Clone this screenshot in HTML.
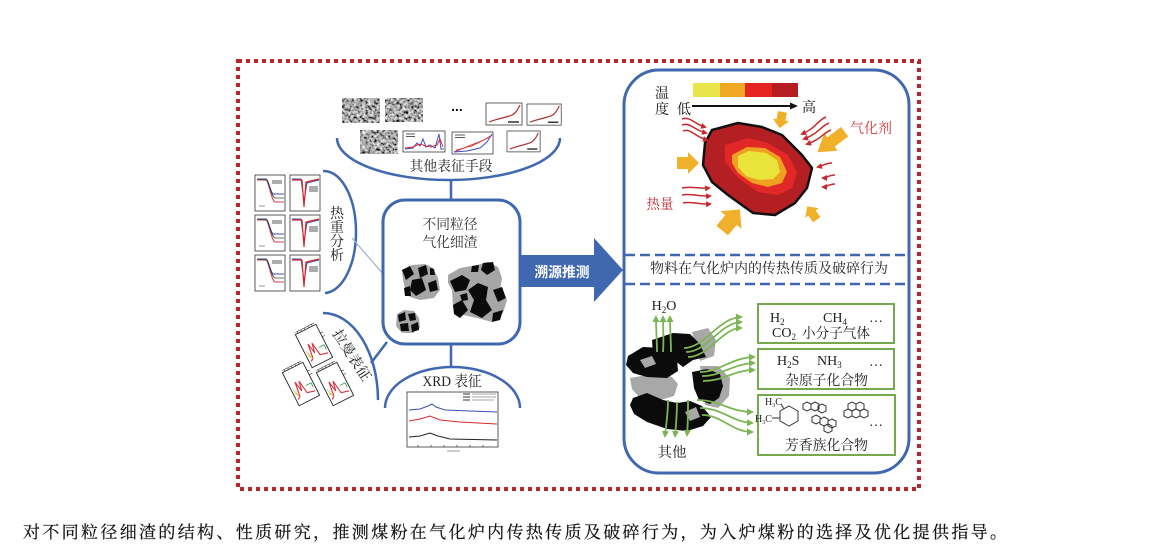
<!DOCTYPE html>
<html><head><meta charset="utf-8">
<style>
html,body{margin:0;padding:0;background:#fff;width:1155px;height:556px;overflow:hidden;}
svg{display:block;}
.s{font-family:"Liberation Serif","Noto Serif CJK SC",serif;}
.b{font-family:"Liberation Sans","Noto Sans CJK SC",sans-serif;}
</style></head><body>
<svg width="1155" height="556" viewBox="0 0 1155 556" xmlns="http://www.w3.org/2000/svg">
<defs>
<filter id="noise" x="0" y="0" width="1" height="1">
<feTurbulence type="fractalNoise" baseFrequency="0.35" numOctaves="3" seed="7"/>
<feColorMatrix type="matrix" values="1.7 0 0 0 -0.45  1.7 0 0 0 -0.45  1.7 0 0 0 -0.45  0 0 0 0 1"/>
</filter>
<marker id="ga" markerWidth="8" markerHeight="8" refX="5" refY="4" orient="auto" markerUnits="userSpaceOnUse"><path d="M0,0.5 L7,4 L0,7.5 Z" fill="#7cb553"/></marker>
<marker id="ra" markerWidth="7" markerHeight="7" refX="4" refY="3.5" orient="auto" markerUnits="userSpaceOnUse"><path d="M0,0.5 L6,3.5 L0,6.5 Z" fill="#c8282e"/></marker>
<marker id="ka" markerWidth="8" markerHeight="8" refX="6" refY="4" orient="auto" markerUnits="userSpaceOnUse"><path d="M0,0.5 L8,4 L0,7.5 Z" fill="#111"/></marker>
<path id="barr" d="M-11,-6 L0,-6 L0,-11 L11,0 L0,11 L0,6 L-11,6 Z" fill="#f0b02a"/>
<g id="tg">
<rect x="0" y="0" width="30" height="36" fill="#fff" stroke="#333" stroke-width="0.8"/>
<path d="M2,4 L11,4 C14,5 15,16 18,19 L29,19" fill="none" stroke="#3a4fb0" stroke-width="1"/>
<path d="M2,5 L11,5 C14,7 16,25 20,27 L29,27" fill="none" stroke="#d8404a" stroke-width="1"/>
<path d="M2,4 L12,5 C14,8 16,21 20,23 L29,23" fill="none" stroke="#444" stroke-width="0.8"/>
<path d="M17,6 L27,6 M17,8 L27,8" stroke="#222" stroke-width="0.8"/>
<path d="M4,31 L10,31" stroke="#555" stroke-width="0.6"/>
</g>
<g id="dtg">
<rect x="0" y="0" width="30" height="36" fill="#fff" stroke="#333" stroke-width="0.8"/>
<path d="M2,4 L11,4 L14,26 L17,8 L29,5" fill="none" stroke="#3a4fb0" stroke-width="1"/>
<path d="M2,5 L12,5 L14,32 L16,7 L29,4" fill="none" stroke="#d82a2a" stroke-width="1.2"/>
<path d="M19,12 L28,12 M19,14 L28,14 M19,16 L28,16" stroke="#222" stroke-width="0.7"/>
</g>
<g id="rise">
<rect x="0" y="0" width="36" height="22" fill="#fff" stroke="#222" stroke-width="0.7"/>
<path d="M3,19 C10,16 18,15 26,12 C30,10 32,6 34,2" fill="none" stroke="#d22" stroke-width="1.2"/>
<path d="M3,19 C10,16.5 18,15.5 26,12.5 C30,10.5 32,7 33,3" fill="none" stroke="#555" stroke-width="0.5"/>
<path d="M22,19 L33,19" stroke="#222" stroke-width="1.4"/>
</g>
<g id="ram">
<rect x="0" y="0" width="23" height="37" fill="#fff" stroke="#222" stroke-width="0.9"/>
<path d="M1,-2 L22,-2 M3,-2 L3,0 M7,-2 L7,0 M11,-2 L11,0 M15,-2 L15,0 M19,-2 L19,0" stroke="#333" stroke-width="0.6"/>
<path d="M2,31 L5,29 L7,14 L9,25 L11,15 L13,29 L21,31" fill="none" stroke="#d83040" stroke-width="1.1"/>
<path d="M2,20 L4,27 M2,24 L5,30" stroke="#d8c040" stroke-width="0.8"/>
<path d="M15,22 L21,22 L21,27" fill="none" stroke="#40a060" stroke-width="0.9"/>
<path d="M23,10 L26,10 M23,14 L26,14" stroke="#222" stroke-width="0.6"/>
</g>
</defs>

<!-- red dotted border -->
<rect x="238" y="61" width="681" height="428" fill="none" stroke="#b5252a" stroke-width="4" stroke-dasharray="4 4"/>

<!-- ===== LEFT PART ===== -->
<rect x="342" y="98" width="38" height="25" filter="url(#noise)"/>
<rect x="385" y="98" width="38" height="24" filter="url(#noise)"/>
<rect x="360" y="130" width="38" height="24" filter="url(#noise)"/>
<text x="457" y="111" text-anchor="middle" font-size="14" font-weight="bold" class="b" fill="#111">...</text>
<use href="#rise" transform="translate(486,103)"/>
<use href="#rise" transform="translate(527,104) scale(0.95,0.96)"/>
<use href="#rise" transform="translate(507,131) scale(0.92,0.95)"/>
<g transform="translate(403,131)">
<rect x="0" y="0" width="42" height="21" fill="#fff" stroke="#222" stroke-width="0.7"/>
<path d="M2,18 L10,17 L14,12 L17,15 L20,8 L23,16 L27,14 L32,17 L36,3 L38,18 L41,18" fill="none" stroke="#3a4fd0" stroke-width="1"/>
<path d="M2,17 L10,16 L14,14 L18,13 L22,15 L28,16 L34,14 L37,8 L40,16" fill="none" stroke="#d82a2a" stroke-width="1"/>
<path d="M3,3 L12,3 M3,5.5 L12,5.5" stroke="#222" stroke-width="0.8"/>
</g>
<g transform="translate(452,132)">
<rect x="0" y="0" width="41" height="22" fill="#fff" stroke="#222" stroke-width="0.7"/>
<path d="M2,20 L12,16 L22,12 L32,8 L40,3" fill="none" stroke="#d82a2a" stroke-width="1"/>
<path d="M2,20 L15,19 L28,16 L35,10 L40,2" fill="none" stroke="#3a4fd0" stroke-width="1"/>
<path d="M4,18 L20,14 L38,5" fill="none" stroke="#e05050" stroke-width="0.8"/>
<path d="M3,3 L13,3 M3,5.5 L13,5.5" stroke="#222" stroke-width="0.8"/>
</g>
<path d="M337,138 A111.5,42 0 0 0 560,138" fill="none" stroke="#4068b0" stroke-width="2.5"/>
<line x1="451" y1="180" x2="451" y2="201" stroke="#4068b0" stroke-width="2.5"/>
<text x="451" y="171" text-anchor="middle" font-size="14" class="s" fill="#222" textLength="83" lengthAdjust="spacingAndGlyphs">其他表征手段</text>

<!-- thermal charts -->
<use href="#tg" transform="translate(255,175)"/>
<use href="#dtg" transform="translate(290,175)"/>
<use href="#tg" transform="translate(255,215)"/>
<use href="#dtg" transform="translate(290,215)"/>
<use href="#tg" transform="translate(255,255)"/>
<use href="#dtg" transform="translate(290,255)"/>
<path d="M323,171 A32,61 0 0 1 325,293" fill="none" stroke="#4068b0" stroke-width="2.5"/>
<line x1="352" y1="238" x2="384" y2="275" stroke="#9fb0c8" stroke-width="1.2"/>
<g class="s" font-size="14" fill="#222" text-anchor="middle">
<text x="337" y="218">热</text>
<text x="337" y="232">重</text>
<text x="337" y="246">分</text>
<text x="337" y="260">析</text>
</g>

<!-- raman -->
<use href="#ram" transform="translate(314,346) rotate(-27) translate(-11.5,-18.5)"/>
<use href="#ram" transform="translate(301,384) rotate(-27) translate(-11.5,-18.5)"/>
<use href="#ram" transform="translate(335,384) rotate(-27) translate(-11.5,-18.5)"/>
<path d="M323,313 A55,87 0 0 1 378,400" fill="none" stroke="#4068b0" stroke-width="2.5"/>
<line x1="371" y1="363" x2="387" y2="342" stroke="#4068b0" stroke-width="2.5"/>
<text x="0" y="5" transform="translate(352,355) rotate(57)" text-anchor="middle" font-size="14" class="s" fill="#222" textLength="58" lengthAdjust="spacingAndGlyphs">拉曼表征</text>

<!-- XRD -->
<line x1="451" y1="344" x2="451" y2="367" stroke="#4068b0" stroke-width="2.5"/>
<path d="M385,408 A67.5,41 0 0 1 520,408" fill="none" stroke="#4068b0" stroke-width="2.5"/>
<text x="452" y="386" text-anchor="middle" font-size="15" class="s" fill="#222" textLength="59" lengthAdjust="spacingAndGlyphs">XRD 表征</text>
<g>
<rect x="407" y="392" width="91" height="55" fill="#fff" stroke="#333" stroke-width="0.8"/>
<path d="M409,410 L420,409 L428,406 L432,404 L436,407 L445,410 L470,411 L497,412" fill="none" stroke="#3a4fb0" stroke-width="1"/>
<path d="M409,421 L420,419 L430,416 L440,420 L460,422 L497,424" fill="none" stroke="#d82a2a" stroke-width="1"/>
<path d="M409,437 L420,436 L430,433 L438,436 L450,439 L497,440" fill="none" stroke="#222" stroke-width="1"/>
<path d="M463,394 L470,394 M463,397 L470,397 M463,400 L470,400" stroke-width="1" stroke="#333"/>
<path d="M472,394 L496,394 M472,397 L496,397 M472,400 L494,400" stroke-width="0.7" stroke="#888"/>
<path d="M418,447 L418,445 M431,447 L431,445 M444,447 L444,445 M457,447 L457,445 M470,447 L470,445 M483,447 L483,445" stroke="#333" stroke-width="0.7"/>
<path d="M447,451 L460,451" stroke="#999" stroke-width="1"/>
</g>

<!-- center box -->
<rect x="383" y="200" width="137" height="144" rx="22" fill="#fff" stroke="#4068b0" stroke-width="3"/>
<text x="450" y="229" text-anchor="middle" font-size="14" class="s" fill="#333" textLength="55" lengthAdjust="spacingAndGlyphs">不同粒径</text>
<text x="450" y="247" text-anchor="middle" font-size="14" class="s" fill="#333" textLength="55" lengthAdjust="spacingAndGlyphs">气化细渣</text>
<polygon fill="#a6a6a6" points="448,275 460,268 477,265 488,262 498,267 502,278 500,290 507,300 503,313 492,322 477,318 463,315 453,307 452,290 448,283"/>
<g fill="#0b0b0b">
<polygon points="450,281 462,275 470,280 466,290 455,292"/>
<polygon points="483,263 493,262 495,270 487,275 481,270"/>
<polygon points="468,290 478,283 488,287 486,300 492,310 482,318 470,312 474,300"/>
<polygon points="493,290 502,287 506,298 498,302"/>
<polygon points="453,305 462,300 468,310 460,318 454,314"/>
<polygon points="460,295 467,293 468,300 462,301"/>
<polygon points="493,313 503,310 500,320 492,322"/>
<polygon points="472,266 479,265 478,272 471,272"/>
</g>
<polygon fill="#a6a6a6" points="402,270 412,265 425,264 433,268 438,278 440,290 434,298 420,300 410,297 405,288 403,280"/>
<g fill="#0b0b0b">
<polygon points="402,270 410,266 414,274 406,280"/>
<polygon points="418,268 426,265 428,274 420,278"/>
<polygon points="412,280 422,278 426,290 416,296 410,290"/>
<polygon points="428,283 436,280 438,290 430,292"/>
<polygon points="404,288 410,286 411,296 405,296"/>
<polygon points="430,268 434,269 435,275 430,275"/>
</g>
<polygon fill="#a6a6a6" points="397,314 404,310 414,311 419,318 420,328 413,333 402,333 396,326"/>
<g fill="#0b0b0b">
<polygon points="398,315 405,312 406,320 399,322"/>
<polygon points="408,314 415,313 416,320 410,321"/>
<polygon points="400,324 408,323 409,331 401,331"/>
<polygon points="411,325 418,322 419,330 412,332"/>
</g>

<!-- big arrow -->
<polygon points="520,255 594,255 594,238 623,270 594,302 594,287 520,287" fill="#4068b0"/>
<text x="562" y="277" text-anchor="middle" font-size="14" font-weight="bold" class="b" fill="#fff" textLength="55" lengthAdjust="spacingAndGlyphs">溯源推测</text>

<!-- ===== RIGHT PART ===== -->
<rect x="624" y="70" width="285" height="403" rx="35" fill="#fff" stroke="#4068b0" stroke-width="3"/>
<line x1="625" y1="255" x2="908" y2="255" stroke="#4068b0" stroke-width="2.5" stroke-dasharray="10 5"/>
<line x1="625" y1="284" x2="908" y2="284" stroke="#4068b0" stroke-width="2.5" stroke-dasharray="10 5"/>
<text x="769" y="273" text-anchor="middle" font-size="14" class="s" fill="#222" textLength="238" lengthAdjust="spacingAndGlyphs">物料在气化炉内的传热传质及破碎行为</text>

<rect x="693" y="83" width="27" height="14" fill="#e9e44a"/>
<rect x="720" y="83" width="25" height="14" fill="#f0a825"/>
<rect x="745" y="83" width="27" height="14" fill="#e52421"/>
<rect x="772" y="83" width="26" height="14" fill="#b51d23"/>
<g class="s" font-size="14" fill="#111" text-anchor="middle">
<text x="662" y="98">温</text>
<text x="662" y="114">度</text>
<text x="684" y="114">低</text>
<text x="809" y="112">高</text>
</g>
<line x1="692" y1="106" x2="796" y2="106" stroke="#111" stroke-width="2" marker-end="url(#ka)"/>

<polygon points="712,130 738,123 762,127 782,135 802,155 812,168 807,188 795,203 775,215 753,213 728,195 712,182 703,165 705,143" fill="#b41f24" stroke="#111" stroke-width="2.5" stroke-linejoin="round"/>
<polygon points="725,145 748,138 768,143 788,155 797,172 792,188 778,195 758,192 738,178 725,162" fill="#e22826"/>
<polygon points="732,155 747,147 765,148 780,157 787,172 782,183 768,187 752,183 738,173 732,163" fill="#f0a020"/>
<polygon points="738,156 749,151 766,153 777,160 780,172 773,179 759,180 746,176 738,167" fill="#e9e43a"/>

<use href="#barr" transform="translate(688,163)"/>
<use href="#barr" transform="translate(781,120) rotate(100) scale(0.75)"/>
<use href="#barr" transform="translate(731,220) rotate(-50) scale(1.25)"/>
<use href="#barr" transform="translate(812,213) rotate(-125) scale(0.75)"/>
<use href="#barr" transform="translate(831,142) rotate(143) scale(1.55,1)"/>

<g fill="none" stroke="#c8282e" stroke-width="1.5" marker-end="url(#ra)">
<path d="M682,119 C690,116 694,124 705,127"/>
<path d="M682,125 C690,122 694,130 706,133"/>
<path d="M683,131 C691,128 695,137 707,140"/>
<path d="M682,188 C692,186 700,189 709,188"/>
<path d="M682,195 C692,193 700,197 710,196"/>
<path d="M683,203 C693,201 700,205 710,204"/>
<path d="M826,117 C818,120 816,128 802,134"/>
<path d="M829,123 C821,126 818,134 804,139"/>
<path d="M831,130 C823,133 820,140 807,144"/>
<path d="M832,163 C826,163 822,166 818,167"/>
<path d="M835,175 C829,175 826,178 823,178"/>
<path d="M835,184 C829,184 826,187 823,187"/>
</g>
<text x="871" y="133" text-anchor="middle" font-size="14" class="s" fill="#d23a3a" textLength="42" lengthAdjust="spacingAndGlyphs">气化剂</text>
<text x="660" y="209" text-anchor="middle" font-size="14" class="s" fill="#c0282c" textLength="27" lengthAdjust="spacingAndGlyphs">热量</text>

<!-- bottom particle -->
<g>
<polygon fill="#a8a8a8" points="692,332 708,328 716,340 714,356 700,361"/>
<polygon fill="#a8a8a8" points="630,378 653,374 672,377 678,384 674,396 657,401 640,398 632,389"/>
<polygon fill="#a8a8a8" points="700,366 718,366 730,378 729,396 718,408 705,405"/>
<polygon fill="#0b0b0b" points="652,340 673,333 690,334 700,344 706,357 693,360 683,367 670,357 653,355"/>
<polygon fill="#0b0b0b" points="628,356 643,347 663,348 677,360 678,371 667,378 647,377 633,373 626,365"/>
<polygon fill="#0b0b0b" points="633,398 647,393 663,400 677,403 690,401 702,406 711,417 703,426 687,431 667,429 647,422 634,414 630,405"/>
<polygon fill="#0b0b0b" points="692,372 707,369 720,374 723,386 719,398 710,404 699,400 694,388"/>
<polygon fill="#a8a8a8" points="640,360 652,356 656,364 645,368"/>
<polygon fill="#a8a8a8" points="685,412 696,407 700,417 690,421"/>
<polygon fill="#a8a8a8" points="699,341 709,337 711,349 703,351"/>
<polygon fill="#a8a8a8" points="648,384 660,382 662,392 650,393"/>
</g>
<g fill="none" stroke="#7cb553" stroke-width="1.8" marker-end="url(#ga)">
<path d="M657,352 C657,340 656,330 656,317"/>
<path d="M663,352 C664,340 663,330 663,317"/>
<path d="M671,352 C671,340 670,330 670,317"/>
<path d="M668,400 C668,415 666,425 665,436"/>
<path d="M677,402 C677,415 676,425 675,436"/>
<path d="M688,400 C688,415 688,425 687,435"/>
<path d="M684,348 C705,348 718,318 741,317"/>
<path d="M686,352 C707,352 720,323 741,322"/>
<path d="M688,357 C709,357 722,328 741,328"/>
<path d="M700,372 C720,372 730,358 754,357"/>
<path d="M702,376 C722,376 732,364 754,363"/>
<path d="M703,381 C724,381 734,370 754,370"/>
<path d="M697,400 C720,400 730,412 752,412"/>
<path d="M700,408 C722,408 732,422 752,423"/>
<path d="M702,415 C722,415 732,432 752,432"/>
</g>
<text x="664" y="310" text-anchor="middle" font-size="14" class="s" fill="#222">H<tspan font-size="9" dy="3">2</tspan><tspan dy="-3">O</tspan></text>
<text x="672" y="457" text-anchor="middle" font-size="14" class="s" fill="#222" textLength="29" lengthAdjust="spacingAndGlyphs">其他</text>

<g fill="#fff" stroke="#76a94f" stroke-width="2">
<rect x="758" y="304" width="136" height="39"/>
<rect x="758" y="349" width="136" height="40"/>
<rect x="758" y="395" width="137" height="60"/>
</g>
<g class="s" fill="#222" font-size="14">
<text x="770" y="322">H<tspan font-size="9" dy="3">2</tspan></text>
<text x="823" y="322">CH<tspan font-size="9" dy="3">4</tspan></text>
<text x="869" y="322">…</text>
<text x="772" y="337">CO<tspan font-size="9" dy="3">2</tspan></text>
<text x="802" y="338" textLength="68" lengthAdjust="spacingAndGlyphs">小分子气体</text>
<text x="777" y="365">H<tspan font-size="9" dy="3">2</tspan><tspan dy="-3">S</tspan></text>
<text x="817" y="365">NH<tspan font-size="9" dy="3">3</tspan></text>
<text x="869" y="366">…</text>
<text x="785" y="385" textLength="83" lengthAdjust="spacingAndGlyphs">杂原子化合物</text>
<text x="869" y="426">…</text>
<text x="785" y="450" textLength="83" lengthAdjust="spacingAndGlyphs">芳香族化合物</text>
</g>
<g class="s" fill="#222" font-size="10">
<text x="765" y="405">H<tspan font-size="6" dy="2">3</tspan><tspan dy="-2">C</tspan></text>
<text x="755" y="422">H<tspan font-size="6" dy="2">3</tspan><tspan dy="-2">C</tspan></text>
</g>
<g fill="none" stroke="#333" stroke-width="1">
<polygon points="789,406 798,411 798,421 789,426 780,421 780,411"/>
<line x1="781" y1="404" x2="784" y2="409"/>
<line x1="772" y1="418" x2="780" y2="418"/>
<polygon points="807,402 811,404 811,409 807,411 803,409 803,404"/>
<polygon points="815,402 819,404 819,409 815,411 811,409 811,404"/>
<polygon points="822,404 826,406 826,411 822,413 818,411 818,406"/>
<polygon points="816,415 820,417 820,422 816,424 812,422 812,417"/>
<polygon points="824,417 828,419 828,424 824,426 820,424 820,419"/>
<polygon points="832,419 836,421 836,426 832,428 828,426 828,421"/>
<polygon points="828,424 832,426 832,431 828,433 824,431 824,426"/>
<polygon points="852,402 856,404 856,409 852,411 848,409 848,404"/>
<polygon points="860,402 864,404 864,409 860,411 856,409 856,404"/>
<polygon points="856,409 860,411 860,416 856,418 852,416 852,411"/>
<polygon points="848,409 852,411 852,416 848,418 844,416 844,411"/>
<polygon points="864,409 868,411 868,416 864,418 860,416 860,411"/>
</g>

<!-- caption -->
<text x="23" y="538" font-size="17" class="s" fill="#111" stroke="#111" stroke-width="0.2" textLength="984" lengthAdjust="spacing">对不同粒径细渣的结构、性质研究，推测煤粉在气化炉内传热传质及破碎行为，为入炉煤粉的选择及优化提供指导。</text>
</svg>
</body></html>
